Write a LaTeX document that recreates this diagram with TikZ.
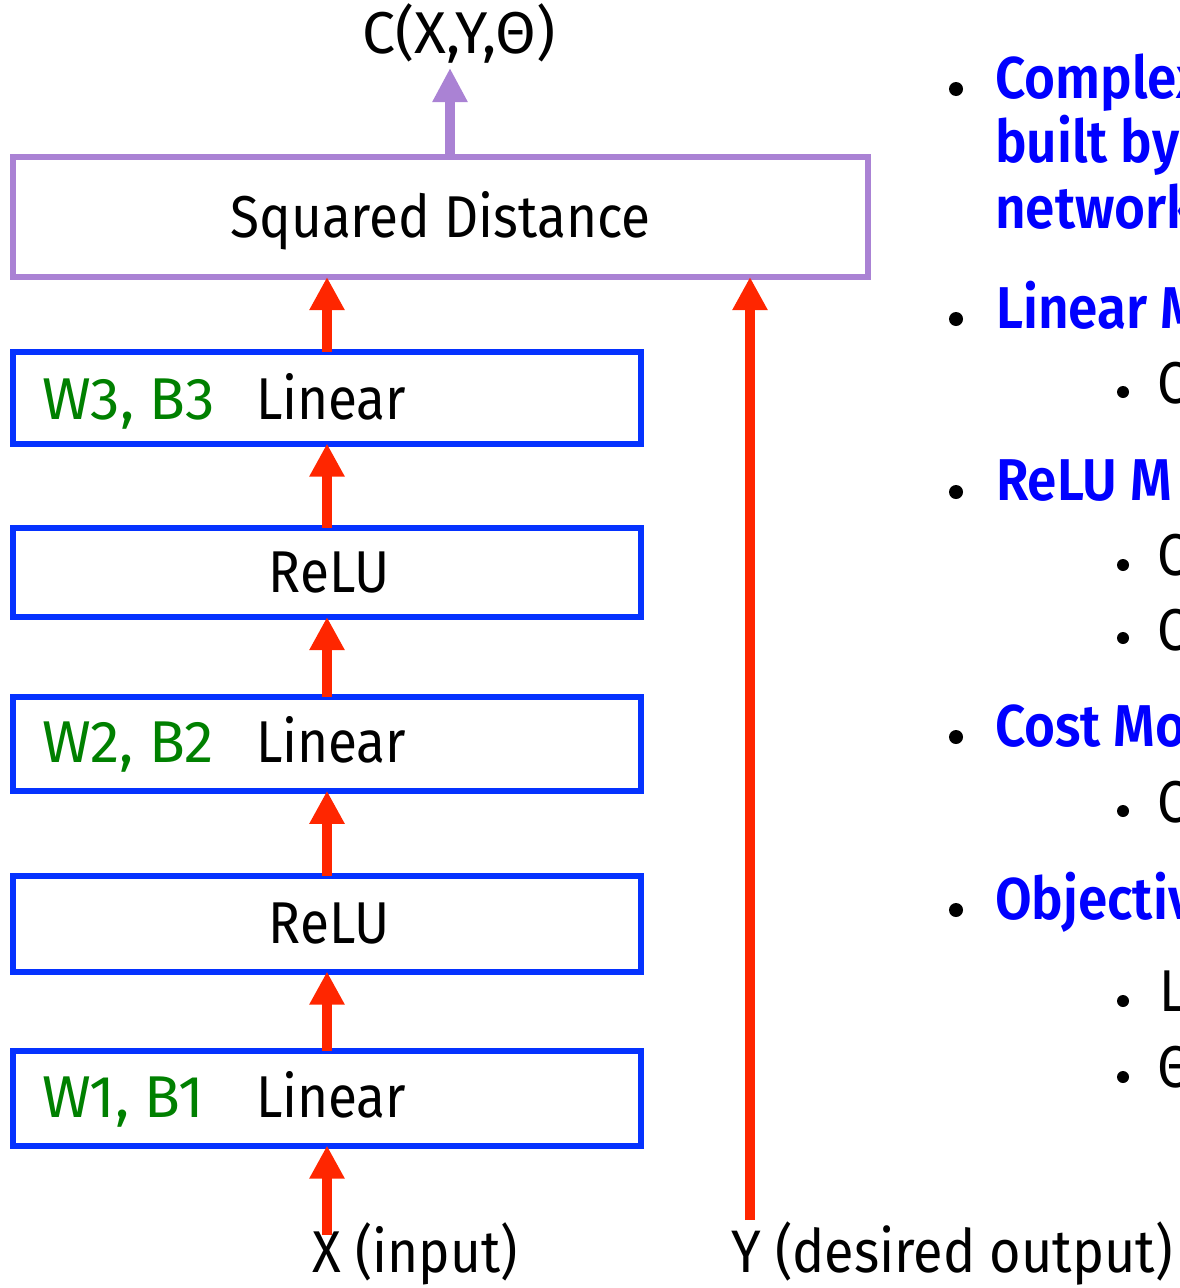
\documentclass[tikz,border=0pt]{standalone}
\usepackage{fontspec}
\setmainfont{Fira Sans}[FakeStretch=0.9, BoldFont={Fira Sans SemiBold}, BoldFeatures={FakeStretch=0.9}]
\newfontfamily\widefont{Fira Sans}
\usetikzlibrary{arrows.meta}
\definecolor{boxblue}{RGB}{5,50,255}
\definecolor{arrred}{RGB}{255,38,0}
\definecolor{costpurple}{RGB}{170,130,212}
\definecolor{wgreen}{RGB}{0,128,0}
\definecolor{headblue}{RGB}{0,0,255}
\begin{document}
\begin{tikzpicture}[x=1pt,y=-1pt,
  bigfont/.style={font=\fontsize{59}{64}\selectfont},
  layer/.style={draw=boxblue, line width=6pt, rectangle, minimum width=628pt,
    outer sep=0pt, inner sep=0pt, bigfont, text height=40pt, text depth=0pt},
  costbox/.style={draw=costpurple, line width=6pt, rectangle, minimum width=855pt,
    minimum height=120pt, outer sep=0pt, inner sep=0pt, bigfont, text height=40pt, text depth=0pt},
  txt/.style={inner sep=0pt, outer sep=0pt, bigfont},
  wlabel/.style={inner sep=0pt, outer sep=0pt, font=\widefont\fontsize{59}{64}\selectfont, text=wgreen},
  headtxt/.style={inner sep=0pt, outer sep=0pt, font=\fontsize{59}{64}\selectfont\bfseries, text=headblue, anchor=base west},
  subtxt/.style={txt, anchor=base west},
  flow/.style={draw=arrred, line width=10pt, -{Triangle[length=33pt,width=33pt]}},
  costflow/.style={draw=costpurple, line width=10pt, -{Triangle[length=34pt,width=33pt]}}
]
\useasboundingbox (0,0) rectangle (1179,1288);

% cost module
\node[costbox] (SD) at (440.5,217) {Squared Distance};
\coordinate (cout) at (450,68);
\draw[costflow] (SD.north -| cout) -- (cout);
\node[inner sep=0pt, outer sep=0pt, font=\widefont\fontsize{59}{64}\selectfont, anchor=base] (C) at (459,53) {C(X,Y,Θ)};

% layers
\node[layer, minimum height=92pt] (L3) at (327,397.5) {};
\node[layer, minimum height=89pt] (R2) at (327,572.5) {\hspace*{4pt}ReLU};
\node[layer, minimum height=94pt] (L2) at (327,743.75) {};
\node[layer, minimum height=96pt] (R1) at (327,923.5) {\hspace*{4pt}ReLU};
\node[layer, minimum height=95pt] (L1) at (327,1098) {};

\node[wlabel, anchor=base west] (L3w) at (42,419) {W3, B3};
\node[txt, anchor=base west] (L3t) at (256,419) {Linear};
\node[wlabel, anchor=base west] (L2w) at (42,762) {W2, B2};
\node[txt, anchor=base west] (L2t) at (256,762) {Linear};
\node[wlabel, anchor=base west] (L1w) at (42,1117) {W1, B1};
\node[txt, anchor=base west] (L1t) at (256,1117) {Linear};

% arrows
\coordinate (xin) at (327,1235);
\coordinate (yin) at (750,1220);
\draw[flow] (xin) -- (L1.south);
\draw[flow] (L1.north) -- (R1.south);
\draw[flow] (R1.north) -- (L2.south);
\draw[flow] (L2.north) -- (R2.south);
\draw[flow] (R2.north) -- (L3.south);
\draw[flow] (L3.north) -- (L3.north |- SD.south);
\draw[flow] (yin) -- (yin |- SD.south);

\node[txt, anchor=base] (xl) at (415,1272) {X (input)};
\node[txt, anchor=base west] (yl) at (731,1272) {\fontsize{60}{64}\selectfont Y (desired output)};

% right-hand text (cut by the page edge)
\begin{scope}
\clip (0,0) rectangle (1179,1288);
\foreach \yy in {89,319,492,737,910} \fill (956,\yy) circle (7pt);
\foreach \yy in {392,565,638,811,1001,1077} \fill (1123,\yy) circle (6pt);
\node[headtxt] (h1) at (995,98) {Complex};
\node[headtxt] (h1b) at (995,162) {built by};
\node[headtxt] (h1c) at (995,228) {network};
\node[headtxt] (h2) at (996,328) {Linear M};
\node[headtxt] (h3) at (996,500) {ReLU M};
\node[headtxt] (h4) at (995,746) {Cost Mo};
\node[headtxt] (h5) at (995,919) {Objectiv};
\node[subtxt] (s1) at (1157,403) {C};
\node[subtxt] (s2) at (1157,575) {C};
\node[subtxt] (s3) at (1157,650) {C};
\node[subtxt] (s4) at (1157,822) {C};
\node[subtxt] (s5) at (1159,1011) {L};
\node[subtxt] (s6) at (1157,1087) {Θ};
\end{scope}
\end{tikzpicture}
\end{document}
